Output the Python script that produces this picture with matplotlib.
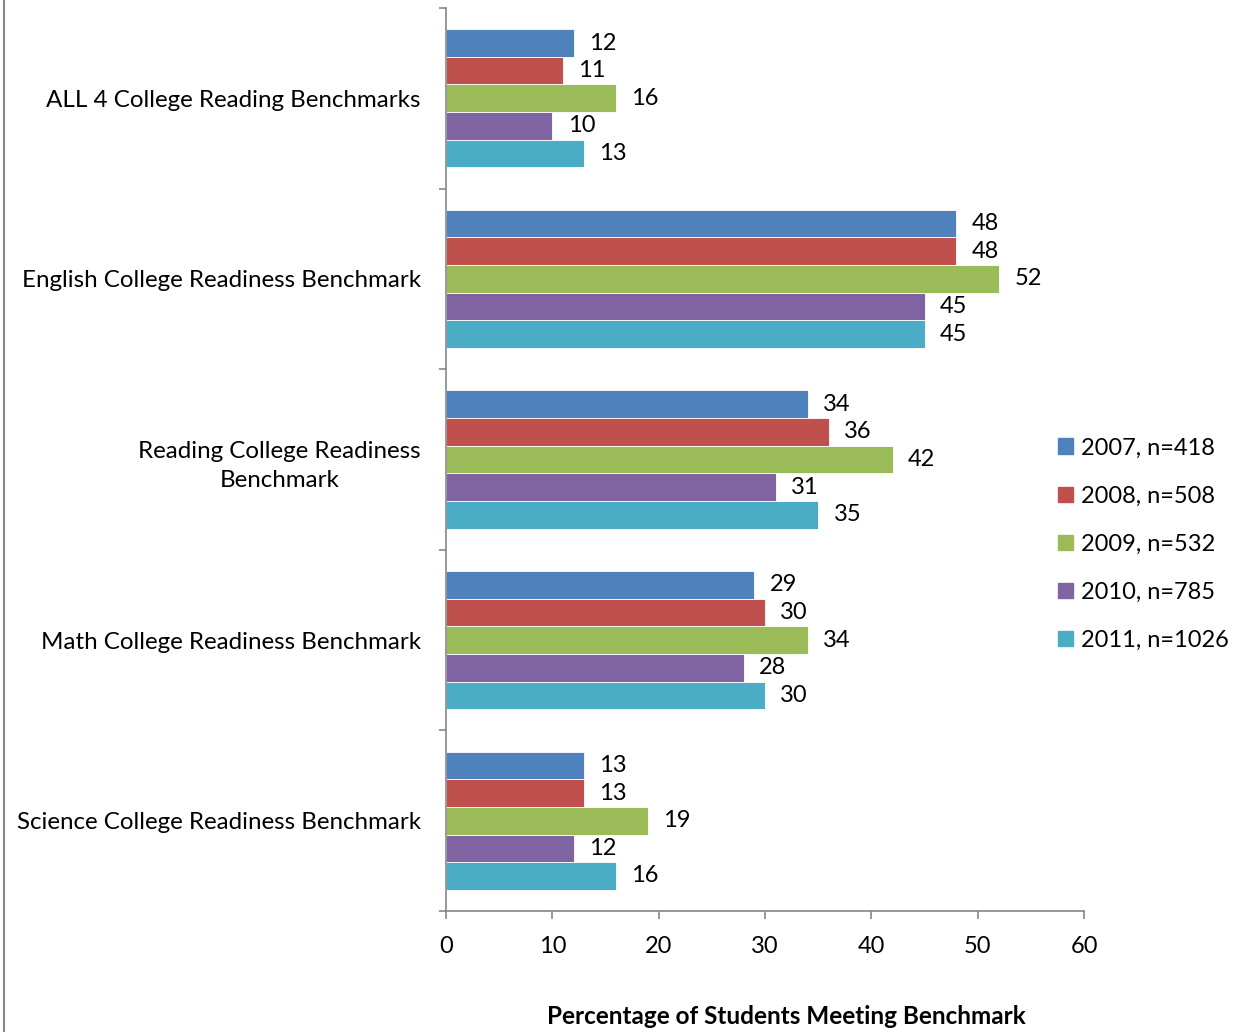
import matplotlib
matplotlib.use("Agg")
import matplotlib.pyplot as plt
import numpy as np
from matplotlib.lines import Line2D

plt.rcParams['font.family'] = ['Lato', 'DejaVu Sans']

categories = ["ALL 4 College Reading Benchmarks",
              "English College Readiness Benchmark",
              "Reading College Readiness\nBenchmark",
              "Math College Readiness Benchmark",
              "Science College Readiness Benchmark"]
series_names = ["2007, n=418", "2008, n=508", "2009, n=532", "2010, n=785", "2011, n=1026"]
values = {
    "2007, n=418": [12, 48, 34, 29, 13],
    "2008, n=508": [11, 48, 36, 30, 13],
    "2009, n=532": [16, 52, 42, 34, 19],
    "2010, n=785": [10, 45, 31, 28, 12],
    "2011, n=1026": [13, 45, 35, 30, 16],
}
colors = ["#4F81BD", "#C0504D", "#9BBB59", "#8064A2", "#4BACC6"]
x_ticks = [0, 10, 20, 30, 40, 50, 60]
x_label = "Percentage of Students Meeting Benchmark"

fig = plt.figure(figsize=(12.41, 10.32), dpi=100)
ax = fig.add_axes([446/1241, 1-911/1032, (1084-446)/1241, (911-8)/1032])

bh = 0.153
y = np.arange(len(categories))
for i, (name, c) in enumerate(zip(series_names, colors)):
    pos = y - 2*bh + i*bh
    bars = ax.barh(pos, values[name], height=bh, color=c, edgecolor='white', linewidth=0.6, label=name)
    for b, v in zip(bars, values[name]):
        ax.annotate(str(v), (v, b.get_y() + b.get_height()/2), xytext=(11, 0),
                    textcoords='offset points', ha='left', va='center', fontsize=17, color='black')

ax.set_xlim(0, 60)
ax.set_ylim(len(categories)-0.5, -0.5)
ax.set_xticks(x_ticks)
ax.set_xticklabels([str(t) for t in x_ticks], fontsize=17)
ax.set_yticks(y)
ax.set_yticklabels(categories, fontsize=17.4, multialignment='center', linespacing=1.5)
ax.set_yticks(np.arange(len(categories)+1) - 0.5, minor=True)
ax.tick_params(axis='y', which='major', length=0, pad=18)
ax.tick_params(axis='y', which='minor', length=5, color='#868686', width=1.2)
ax.tick_params(axis='x', which='major', length=6, color='#868686', width=1.2, pad=12)
for s in ['top', 'right']:
    ax.spines[s].set_visible(False)
for s in ['left', 'bottom']:
    ax.spines[s].set_color('#868686')
    ax.spines[s].set_linewidth(1.2)

fig.text(786/1241, 1-1017/1032, x_label, ha='center', va='center', fontsize=17.5, fontweight='bold')

handles = [plt.Rectangle((0, 0), 1, 1, color=c) for c in colors]
leg = fig.legend(handles, series_names, loc='upper left', bbox_to_anchor=(1049/1241, 1-428/1032),
                 frameon=False, fontsize=17, handlelength=0.62, handleheight=0.62,
                 handletextpad=0.35, labelspacing=1.15, borderaxespad=0)

fig.add_artist(Line2D([4/1241, 4/1241], [0, 1], color='#868686', linewidth=1.5))

fig.savefig("out.png", dpi=100)
